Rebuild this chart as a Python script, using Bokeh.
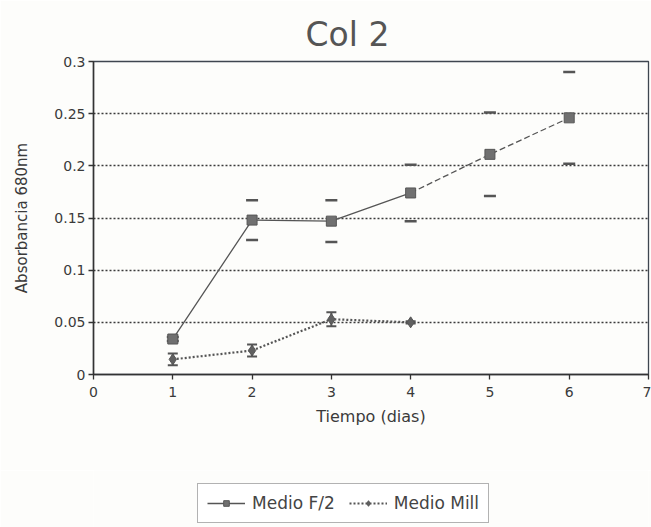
from bokeh.plotting import figure
from bokeh.layouts import column
from bokeh.models import (Whisker, TeeHead, ColumnDataSource, Legend, LegendItem,
                          NumeralTickFormatter, FixedTicker, Range1d)
from bokeh.embed import file_html
from bokeh.resources import INLINE

# ---- data ----
title_text = "Col 2"
x_label = "Tiempo (dias)"
y_label = "Absorbancia 680nm"
series_names = ["Medio F/2", "Medio Mill"]

dias = [1, 2, 3, 4, 5, 6]
f2_mean = [0.034, 0.148, 0.147, 0.174, 0.211, 0.246]
f2_err = [0.002, 0.019, 0.020, 0.027, 0.040, 0.044]

mill_dias = [1, 2, 3, 4]
mill_mean = [0.0145, 0.023, 0.053, 0.050]
mill_err = [0.0057, 0.0057, 0.0067, 0.001]

x_ticks = [0, 1, 2, 3, 4, 5, 6, 7]
y_ticks = [0, 0.05, 0.1, 0.15, 0.2, 0.25, 0.3]

FONT = "DejaVu Sans"
BG = "#fdfdfb"
INK = "#555555"

p = figure(width=651, height=470, output_backend="svg", toolbar_location=None,
           x_range=Range1d(x_ticks[0], x_ticks[-1]), y_range=Range1d(y_ticks[0], y_ticks[-1]),
           min_border_left=93, min_border_right=3, min_border_top=61, min_border_bottom=96,
           background_fill_color=BG, border_fill_color=BG)

# title
p.title.text = title_text
p.title.align = "left"
p.title.offset = 212
p.title.text_font = FONT
p.title.text_font_size = "33px"
p.title.text_font_style = "normal"
p.title.text_color = "#555555"
p.title.standoff = 16

p.outline_line_color = "#3f4650"
p.outline_line_width = 1.3

# axes
for ax in (p.xaxis[0], p.yaxis[0]):
    ax.axis_line_color = "#333333"
    ax.axis_line_width = 1.5
    ax.major_tick_line_color = "#333333"
    ax.major_tick_line_width = 1.3
    ax.major_tick_out = 5
    ax.major_tick_in = 0
    ax.minor_tick_line_color = None
    ax.major_label_text_font = FONT
    ax.major_label_text_font_size = "14px"
    ax.major_label_text_color = "#3a3a3a"
    ax.axis_label_text_font = FONT
    ax.axis_label_text_font_style = "normal"
    ax.axis_label_text_color = "#3a3a3a"

p.xaxis.axis_label_text_font_size = "16px"
p.yaxis.axis_label_text_font_size = "15px"
p.xaxis.ticker = FixedTicker(ticks=x_ticks)
p.yaxis.ticker = FixedTicker(ticks=y_ticks)
p.yaxis.formatter = NumeralTickFormatter(format="0.[00]")
p.xaxis.axis_label = x_label
p.yaxis.axis_label = y_label
p.xaxis.major_label_standoff = 7
p.yaxis.major_label_standoff = 3
p.xaxis.axis_label_standoff = 7
p.yaxis.axis_label_standoff = 20

# grid
p.xgrid.grid_line_color = None
p.ygrid.ticker = FixedTicker(ticks=y_ticks[1:-1])
p.ygrid.grid_line_color = "#3a3a3a"
p.ygrid.grid_line_dash = "2 2"
p.ygrid.grid_line_width = 1.3

F2_LINE = dict(line_color=INK, line_width=1.3)
F2_PTS = dict(marker="square", size=10, fill_color="#707070", line_color=INK, line_width=1)
MILL_LINE = dict(line_color=INK, line_width=2.2, line_dash="2 2")
MILL_PTS = dict(marker="diamond", size=11, fill_color="#606060", line_color=INK)

# ---- F/2 series ----
f2_src = ColumnDataSource(dict(
    x=dias, y=f2_mean,
    upper=[m + e for m, e in zip(f2_mean, f2_err)],
    lower=[m - e for m, e in zip(f2_mean, f2_err)]))

p.line(dias[:4], f2_mean[:4], **F2_LINE)
p.line(dias[3:], f2_mean[3:], line_dash="6 3", **F2_LINE)
f2_w = Whisker(base="x", upper="upper", lower="lower", source=f2_src, line_alpha=0,
               upper_head=TeeHead(size=12, line_width=2.5, line_color=INK),
               lower_head=TeeHead(size=12, line_width=2.5, line_color=INK))
p.add_layout(f2_w)
p.scatter("x", "y", source=f2_src, **F2_PTS)

# ---- Mill series ----
mill_src = ColumnDataSource(dict(
    x=mill_dias, y=mill_mean,
    upper=[m + e for m, e in zip(mill_mean, mill_err)],
    lower=[m - e for m, e in zip(mill_mean, mill_err)]))
p.line("x", "y", source=mill_src, **MILL_LINE)
mill_w = Whisker(base="x", upper="upper", lower="lower", source=mill_src,
                 line_color=INK, line_width=2,
                 upper_head=TeeHead(size=10, line_width=2, line_color=INK),
                 lower_head=TeeHead(size=10, line_width=2, line_color=INK))
p.add_layout(mill_w)
p.scatter("x", "y", source=mill_src, **MILL_PTS)

# ---- legend strip (own small figure under the chart) ----
lf = figure(width=651, height=57, output_backend="svg", toolbar_location=None,
            x_axis_type=None, y_axis_type=None,
            min_border_left=0, min_border_right=0, min_border_top=0, min_border_bottom=0,
            background_fill_color=BG, border_fill_color=BG, outline_line_color=None)
lf.xgrid.grid_line_color = None
lf.ygrid.grid_line_color = None
lg_f2_line = lf.line(dias, f2_mean, visible=False, **F2_LINE)
lg_f2_pts = lf.scatter(dias, f2_mean, visible=False, **F2_PTS)
lg_mill_line = lf.line(mill_dias, mill_mean, visible=False, **MILL_LINE)
lg_mill_pts = lf.scatter(mill_dias, mill_mean, visible=False, **MILL_PTS)

legend = Legend(items=[LegendItem(label=series_names[0], renderers=[lg_f2_line, lg_f2_pts]),
                       LegendItem(label=series_names[1], renderers=[lg_mill_line, lg_mill_pts])],
                location=(104, 4), orientation="horizontal",
                label_text_font=FONT, label_text_font_size="17px", label_text_color="#444444",
                glyph_width=38, glyph_height=14, label_standoff=7, spacing=14, padding=9,
                margin=0, border_line_color="#666666", border_line_width=1.2,
                background_fill_color="#ffffff")
lf.add_layout(legend)

open("out.html", "w").write(file_html(column(p, lf, spacing=0), INLINE))
